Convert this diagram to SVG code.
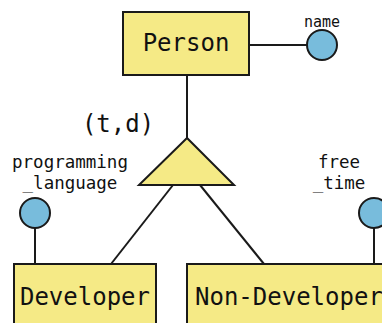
<svg xmlns="http://www.w3.org/2000/svg" width="382" height="323" viewBox="0 0 382 323">
<style>
.ent{fill:#f5ea86;stroke:#1a1a1a;stroke-width:2}
.attr{fill:#78bcdc;stroke:#1a1a1a;stroke-width:2}
.ln{stroke:#1a1a1a;stroke-width:2;fill:none}
.big{font-family:"DejaVu Sans Mono",monospace;font-size:24px;fill:#111}
.small{font-family:"DejaVu Sans Mono",monospace;font-size:17.5px;fill:#111}
.tiny{font-family:"DejaVu Sans Mono",monospace;font-size:15px;fill:#111}
</style>
<rect width="382" height="323" fill="#ffffff"/>
<g id="connectors">
<line class="ln" x1="249" y1="45" x2="307" y2="45"/>
<line class="ln" x1="187" y1="75" x2="187" y2="138"/>
<line class="ln" x1="173" y1="185" x2="111" y2="264"/>
<line class="ln" x1="200" y1="185" x2="264" y2="264"/>
<line class="ln" x1="35" y1="228" x2="35" y2="264"/>
<line class="ln" x1="374" y1="228" x2="374" y2="264"/>
</g>
<g id="person">
<rect class="ent" x="123" y="12" width="126" height="63"/>
<text class="big" x="186" y="51" text-anchor="middle">Person</text>
</g>
<g id="name">
<circle class="attr" cx="322" cy="45" r="15"/>
<text class="tiny" x="322" y="27" text-anchor="middle">name</text>
</g>
<g id="isa">
<polygon class="ent" points="187,138 139,185 234,185"/>
<text class="big" x="118" y="132" text-anchor="middle">(t,d)</text>
</g>
<g id="programming_language">
<circle class="attr" cx="35" cy="213" r="15"/>
<text class="small" x="70" y="168" text-anchor="middle">programming</text>
<text class="small" x="70" y="189" text-anchor="middle">_language</text>
</g>
<g id="free_time">
<circle class="attr" cx="374" cy="213" r="15"/>
<text class="small" x="339" y="168" text-anchor="middle">free</text>
<text class="small" x="339" y="189" text-anchor="middle">_time</text>
</g>
<g id="developer">
<rect class="ent" x="14" y="264" width="142" height="70"/>
<text class="big" x="85" y="305" text-anchor="middle">Developer</text>
</g>
<g id="non_developer">
<rect class="ent" x="187" y="264" width="210" height="70"/>
<text class="big" x="195" y="305">Non-Developer</text>
</g>
</svg>
